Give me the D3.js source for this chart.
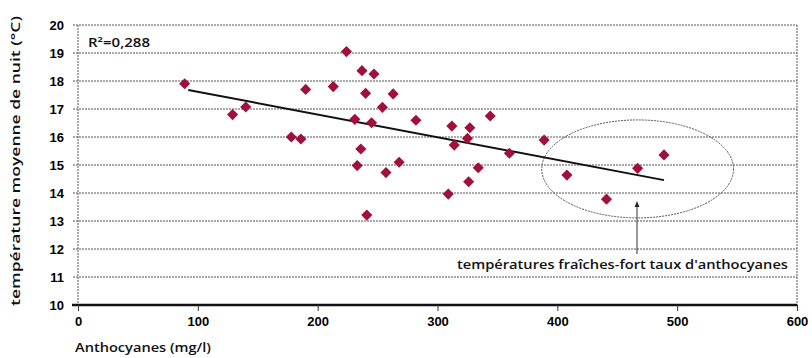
<!DOCTYPE html>
<html>
<head>
<meta charset="utf-8">
<script src="https://cdn.jsdelivr.net/npm/d3@7"></script>
<style>
  body { margin: 0; background: #fff; }
  svg { display: block; font-family: "Open Sans", sans-serif; }
</style>
</head>
<body>
<div id="chart"></div>
<script>
// anthocyanes (mg/l) vs night temperature (°C)
const anthoValues = [89, 129, 140, 178, 186, 190, 213, 224, 237, 247, 240, 263, 254, 231, 245, 282, 312, 327,
  325, 314, 344, 360, 389, 236, 233, 268, 257, 334, 326, 309, 241, 408, 441, 467, 489];
const tempValues = [17.9, 16.8, 17.07, 16.0, 15.93, 17.7, 17.8, 19.05, 18.37, 18.25, 17.56, 17.54, 17.06, 16.63,
  16.51, 16.6, 16.39, 16.33, 15.95, 15.71, 16.75, 15.42, 15.89, 15.57, 14.98, 15.1, 14.73, 14.9, 14.4, 13.96,
  13.21, 14.64, 13.78, 14.88, 15.36];
const trendX = [92, 489];
const trendY = [17.68, 14.46];
const xTicks = [0, 100, 200, 300, 400, 500, 600];
const yTicks = [10, 11, 12, 13, 14, 15, 16, 17, 18, 19, 20];
const r2Label = "R²=0,288";
const noteLabel = "températures fraîches-fort taux d'anthocyanes";

const width = 812, height = 358;
const margin = { top: 25, right: 15, bottom: 53, left: 78 };

const svg = d3.select("#chart").append("svg")
  .attr("width", width)
  .attr("height", height);

const x = d3.scaleLinear().domain([0, 600]).range([margin.left, width - margin.right]);
const y = d3.scaleLinear().domain([10, 20]).range([height - margin.bottom, margin.top]);

const gridColor = "#555";

// horizontal grid lines
svg.append("g")
  .selectAll("line")
  .data(yTicks.filter(d => d > 10))
  .join("line")
  .attr("x1", x(0) - 5)
  .attr("x2", x(600))
  .attr("y1", d => y(d))
  .attr("y2", d => y(d))
  .attr("stroke", gridColor)
  .attr("stroke-width", 1)
  .attr("stroke-dasharray", "2,1");

// left and right frame
svg.append("g")
  .selectAll("line")
  .data([0, 600])
  .join("line")
  .attr("x1", d => x(d))
  .attr("x2", d => x(d))
  .attr("y1", y(20))
  .attr("y2", y(10))
  .attr("stroke", gridColor)
  .attr("stroke-width", 1)
  .attr("stroke-dasharray", "2,1");

// y axis labels
const yAxis = d3.axisLeft(y).tickValues(yTicks).tickSize(0).tickPadding(14);
const gy = svg.append("g")
  .attr("transform", `translate(${x(0)},0)`)
  .call(yAxis);
gy.select(".domain").remove();
gy.selectAll("text")
  .attr("font-size", 13)
  .attr("font-weight", 700)
  .attr("fill", "#000");

// x axis
const xAxis = d3.axisBottom(x).tickValues(xTicks).tickSize(6).tickPadding(6);
const gx = svg.append("g")
  .attr("transform", `translate(0,${y(10)})`)
  .call(xAxis);
gx.select(".domain").attr("stroke", "#111").attr("stroke-width", 2.5).attr("d", `M${x(0) - 6},0H${x(600)}`);
gx.selectAll(".tick line").attr("stroke", "#333");
gx.selectAll("text")
  .attr("font-size", 13)
  .attr("font-weight", 700)
  .attr("fill", "#000");

// axis titles
svg.append("text")
  .attr("transform", `translate(20,${(y(10) + y(20)) / 2 - 4}) rotate(-90)`)
  .attr("text-anchor", "middle")
  .attr("font-size", 12)
  .attr("font-weight", 600)
  .attr("fill", "#111")
  .attr("textLength", 290)
  .attr("lengthAdjust", "spacingAndGlyphs")
  .text("température moyenne de nuit (°C)");

svg.append("text")
  .attr("x", 75)
  .attr("y", 352)
  .attr("font-size", 13)
  .attr("font-weight", 600)
  .attr("fill", "#111")
  .attr("textLength", 136)
  .attr("lengthAdjust", "spacingAndGlyphs")
  .text("Anthocyanes (mg/l)");

// R² label
svg.append("text")
  .attr("x", x(0) + 10)
  .attr("y", y(19) - 6)
  .attr("font-size", 12)
  .attr("font-weight", 600)
  .attr("fill", "#111")
  .attr("textLength", 62)
  .attr("lengthAdjust", "spacingAndGlyphs")
  .text(r2Label);

// highlight ellipse
svg.append("ellipse")
  .attr("cx", x(467))
  .attr("cy", y(14.86))
  .attr("rx", x(80) - x(0))
  .attr("ry", y(10) - y(11.75))
  .attr("fill", "none")
  .attr("stroke", "#555")
  .attr("stroke-width", 1)
  .attr("stroke-dasharray", "2,1");

// trend line
svg.append("line")
  .attr("x1", x(trendX[0]))
  .attr("y1", y(trendY[0]))
  .attr("x2", x(trendX[1]))
  .attr("y2", y(trendY[1]))
  .attr("stroke", "#111")
  .attr("stroke-width", 2);

// points
const points = anthoValues.map((v, i) => ({ a: v, t: tempValues[i] }));
svg.append("g")
  .selectAll("path")
  .data(points)
  .join("path")
  .attr("d", d3.symbol(d3.symbolSquare, 62))
  .attr("transform", d => `translate(${x(d.a)},${y(d.t)}) rotate(45)`)
  .attr("fill", "#a0103c");

// annotation arrow and label
svg.append("defs").append("marker")
  .attr("id", "arrow")
  .attr("viewBox", "0 0 10 10")
  .attr("refX", 5).attr("refY", 5)
  .attr("markerWidth", 6).attr("markerHeight", 6)
  .attr("orient", "auto")
  .append("path")
  .attr("d", "M0,1L10,5L0,9Z")
  .attr("fill", "#222");

svg.append("line")
  .attr("x1", 637).attr("y1", 254)
  .attr("x2", 637).attr("y2", 204)
  .attr("stroke", "#333")
  .attr("stroke-width", 1)
  .attr("marker-end", "url(#arrow)");

svg.append("rect")
  .attr("x", 455).attr("y", 256)
  .attr("width", 336).attr("height", 17)
  .attr("fill", "#fff");

svg.append("text")
  .attr("x", 457)
  .attr("y", 269)
  .attr("font-size", 13)
  .attr("font-weight", 600)
  .attr("fill", "#111")
  .attr("textLength", 331)
  .attr("lengthAdjust", "spacingAndGlyphs")
  .text(noteLabel);
</script>
</body>
</html>
